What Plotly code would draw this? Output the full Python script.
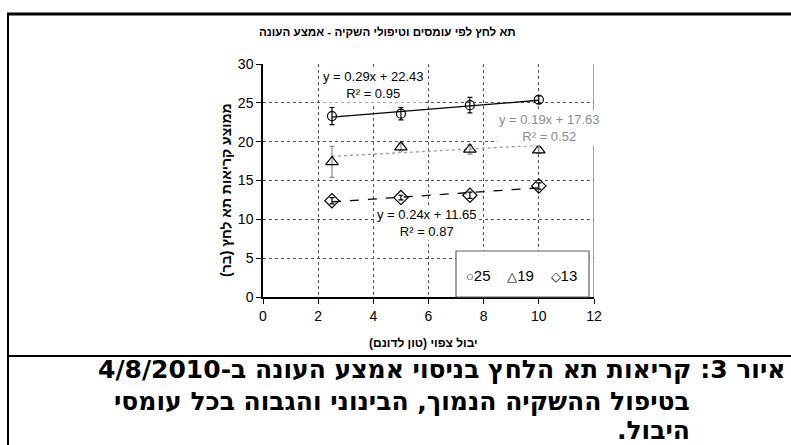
import plotly.graph_objects as go

# Expected yield (ton per dunam) for each load treatment
yield_x = [2.5, 5, 7.5, 10]

# Series names (irrigation treatments) and their mean pressure-chamber readings (bar)
series_names = ["25", "19", "13"]
mean_25 = [23.3, 23.6, 24.7, 25.4]
mean_19 = [17.4, 19.3, 19.0, 18.9]
mean_13 = [12.4, 12.8, 13.1, 14.3]
err_25 = [1.1, 0.8, 1.0, 0.5]
err_19 = [2.0, 0.5, 0.6, 0.4]
err_13 = [0.4, 0.3, 0.4, 0.4]

# Linear trendline coefficients
slopes = [0.29, 0.19, 0.24]
intercepts = [22.43, 17.63, 11.65]
r_squared = [0.95, 0.52, 0.87]

y_ticks = [0, 5, 10, 15, 20, 25, 30]
x_ticks = [0, 2, 4, 6, 8, 10, 12]

RLE, PDF = "\u202b", "\u202c"


def rtl(s):
    return RLE + s + PDF


chart_title = "תא לחץ לפי עומסים וטיפולי השקיה - אמצע העונה"
x_title = "יבול צפוי (טון לדונם)"
y_title = "ממוצע קריאות תא לחץ (בר)"
caption_lines = [
    "איור 3: קריאות תא הלחץ בניסוי אמצע העונה ב-4/8/2010",
    "בטיפול ההשקיה הנמוך, הבינוני והגבוה בכל עומסי",
    "היבול.",
]

# Plot-area pixel box in the 791x445 page
L, R, T, B = 263, 594, 64, 297
W, H = R - L, B - T


def xp(px):
    return (px - L) / W


def yp(py):
    return (B - py) / H


NARROW = "Liberation Sans Narrow, Arial Narrow, Liberation Sans, Arial"
SANS = "Liberation Sans, Arial, DejaVu Sans"
CAPTION = "DejaVu Sans, Liberation Sans"

means = [mean_25, mean_19, mean_13]
errs = [err_25, err_19, err_13]
symbols = ["circle-open", "triangle-up-open", "diamond-open"]
marker_sizes = [9, 11, 11]
err_colors = ["#000000", "#8c8c8c", "#000000"]
line_styles = [
    dict(color="#000000", width=1.3, dash="solid"),
    dict(color="#9a9a9a", width=1.3, dash="dot"),
    dict(color="#000000", width=1.3, dash="dash"),
]
glyphs = ["○", "△", "◇"]

fig = go.Figure()

# Trendlines across the observed yield range
x_fit = [yield_x[0], yield_x[-1]]
for m, b, ls in zip(slopes, intercepts, line_styles):
    fig.add_trace(go.Scatter(
        x=x_fit, y=[m * v + b for v in x_fit], mode="lines",
        line=ls, showlegend=False, hoverinfo="skip",
    ))

# Means with error bars
for name, ys, es, sym, ms, ec in zip(series_names, means, errs, symbols, marker_sizes, err_colors):
    fig.add_trace(go.Scatter(
        x=yield_x, y=ys, mode="markers", name=name,
        marker=dict(symbol=sym, size=ms, color="#000000", line=dict(width=1.2, color="#000000")),
        error_y=dict(type="data", array=es, visible=True, color=ec, thickness=1.2, width=2.5),
        showlegend=False,
    ))

annotations = []

# Trendline equations
eq_pos = [(373, 85, "#000000"), (549, 128, "#8c8c8c"), (427, 223, "#000000")]
for (px, py, col), m, b, r2 in zip(eq_pos, slopes, intercepts, r_squared):
    annotations.append(dict(
        xref="paper", yref="paper", x=xp(px), y=yp(py),
        text=f"y = {m:.2f}x + {b:.2f}<br>R² = {r2:.2f}",
        showarrow=False, font=dict(family=NARROW, size=13, color=col),
        bgcolor="#ffffff", align="center", xanchor="center", yanchor="middle",
    ))

# Legend row
legend_text = "    ".join(
    f"<span style='font-size:13px'>{g}</span>{n}" for g, n in zip(glyphs, series_names)
)
annotations.append(dict(
    xref="paper", yref="paper", x=xp(521), y=yp(275),
    text=legend_text, showarrow=False,
    font=dict(family=NARROW, size=15, color="#000000"),
    xanchor="center", yanchor="middle",
))

# Chart title and axis titles
annotations.append(dict(
    xref="paper", yref="paper", x=xp(387), y=yp(32), text=rtl(chart_title),
    showarrow=False, font=dict(family=SANS, size=11.6, color="#000000", weight="bold"),
    xanchor="center", yanchor="middle",
))
annotations.append(dict(
    xref="paper", yref="paper", x=xp(423), y=yp(343), text=rtl(x_title),
    showarrow=False, font=dict(family=SANS, size=12, color="#000000", weight="bold"),
    xanchor="center", yanchor="middle",
))
annotations.append(dict(
    xref="paper", yref="paper", x=xp(226), y=yp(190), text=rtl(y_title),
    showarrow=False, textangle=-90,
    font=dict(family=SANS, size=14, color="#000000", weight="bold"),
    xanchor="center", yanchor="middle",
))

# Figure caption
cap_pos = [(788, 369), (692, 401), (692, 430)]
for (px, py), line in zip(cap_pos, caption_lines):
    annotations.append(dict(
        xref="paper", yref="paper", x=xp(px), y=yp(py), text=rtl(line),
        showarrow=False, font=dict(family=CAPTION, size=25, color="#000000", weight="bold"),
        xanchor="right", yanchor="middle",
    ))

shapes = [
    # right edge of plot area
    dict(type="line", xref="x", yref="y", x0=12, x1=12, y0=0, y1=30,
         line=dict(color="#808080", width=1.5), layer="below"),
    # legend box
    dict(type="rect", xref="paper", yref="paper", x0=xp(456), x1=xp(589), y0=yp(297), y1=yp(251),
         line=dict(color="#606060", width=1.2), fillcolor="#ffffff", layer="above"),
    # page frame: top rule, left rule, separator above caption
    dict(type="line", xref="paper", yref="paper", x0=xp(7), x1=xp(791), y0=yp(14), y1=yp(14),
         line=dict(color="#000000", width=3)),
    dict(type="line", xref="paper", yref="paper", x0=xp(8), x1=xp(8), y0=yp(13), y1=yp(445),
         line=dict(color="#000000", width=2)),
    dict(type="line", xref="paper", yref="paper", x0=xp(7), x1=xp(791), y0=yp(356), y1=yp(356),
         line=dict(color="#000000", width=2)),
]

fig.update_layout(
    width=791, height=445,
    margin=dict(l=L, r=791 - R, t=T, b=445 - B, pad=0),
    paper_bgcolor="#ffffff", plot_bgcolor="#ffffff",
    showlegend=False,
    annotations=annotations, shapes=shapes,
    xaxis=dict(
        range=[0, 12], tickvals=x_ticks, ticktext=[str(v) for v in x_ticks],
        showgrid=True, gridcolor="#555555", griddash="dot", gridwidth=1,
        showline=True, linecolor="#000000", linewidth=1.5,
        ticks="outside", ticklen=5, tickcolor="#000000",
        tickfont=dict(family=NARROW, size=14, color="#000000"),
        zeroline=False, fixedrange=True,
    ),
    yaxis=dict(
        range=[0, 30], tickvals=y_ticks, ticktext=[str(v) for v in y_ticks],
        showgrid=True, gridcolor="#555555", griddash="dot", gridwidth=1,
        showline=True, linecolor="#000000", linewidth=1.5,
        ticks="outside", ticklen=5, tickcolor="#000000",
        tickfont=dict(family=NARROW, size=14, color="#000000"),
        zeroline=False, fixedrange=True,
    ),
)

fig.write_html("out.html")
